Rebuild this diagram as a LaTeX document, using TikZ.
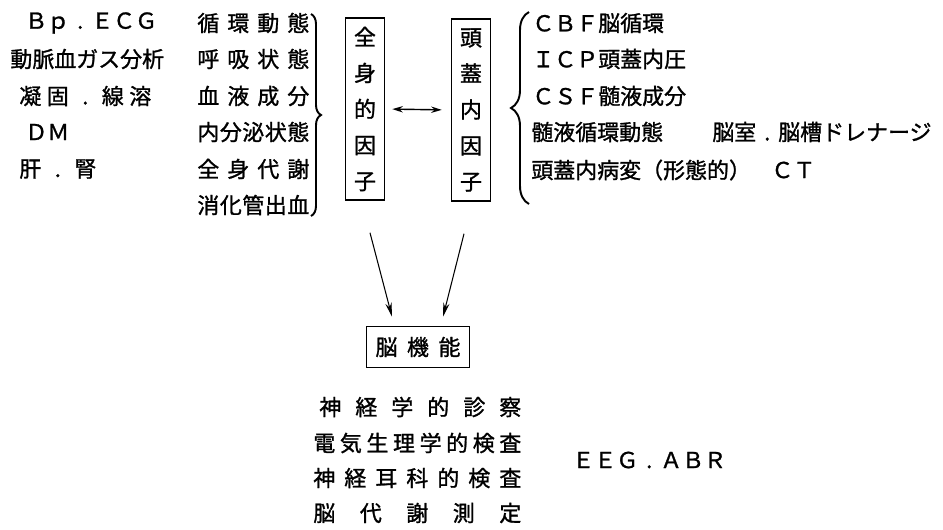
\documentclass[tikz,border=0pt]{standalone}
\usepackage{fontspec}
\setmainfont{Noto Sans CJK JP}[FakeBold=1.2]
\usetikzlibrary{positioning, calc, arrows.meta, decorations.pathreplacing}

\newcommand{\spread}[2]{\makebox[#1][s]{#2}}
\newcommand{\gap}{\hfill{}}
\newcommand{\dt}{\makebox[1em][c]{.}}

\begin{document}
\begin{tikzpicture}[x=0.02cm, y=-0.02cm]
        \tikzstyle{txt}=[anchor=west, inner sep=0pt, font=\fontsize{12.5}{15}\selectfont];
        \tikzstyle{factor}=[draw, line width=0.9pt, minimum width=0.78cm, minimum height=3.64cm, inner sep=0pt, align=center, font=\fontsize{12.5}{20.5}\selectfont];
        \tikzstyle{arr}=[-{Stealth[length=8pt, width=3.6pt]}, line width=0.6pt];
        \tikzstyle{dbl}=[{Stealth[length=6pt, width=3.6pt]}-{Stealth[length=6pt, width=3.6pt]}, line width=0.8pt];
        \tikzstyle{brc}=[decorate, line width=1.1pt];
        \useasboundingbox (0,0) rectangle (943,529);

        \node[txt] (bp) at (25,23) {Ｂｐ\dt ＥＣＧ};
        \node[txt] (gas) at (10,59) {動脈血ガス分析};
        \node[txt] (coag) at (19,96) {\spread{2.64cm}{凝\gap 固\gap\dt\gap 線\gap 溶}};
        \node[txt] (dm) at (25,132) {ＤＭ};
        \node[txt] (liver) at (19,169) {\spread{1.54cm}{肝\gap\dt\gap 腎}};

        \node[txt] (circ) at (197,23) {\spread{2.24cm}{循\gap 環\gap 動\gap 態}};
        \node[txt] (resp) at (197,59) {\spread{2.24cm}{呼\gap 吸\gap 状\gap 態}};
        \node[txt] (blood) at (197,96) {\spread{2.24cm}{血\gap 液\gap 成\gap 分}};
        \node[txt] (endo) at (197,132) {\spread{2.24cm}{内\gap 分\gap 泌\gap 状\gap 態}};
        \node[txt] (metab) at (197,169) {\spread{2.24cm}{全\gap 身\gap 代\gap 謝}};
        \node[txt] (gi) at (197,205) {\spread{2.24cm}{消\gap 化\gap 管\gap 出\gap 血}};
        \draw[brc, decoration={brace, amplitude=0.2cm}] (311,14) -- (311,216);

        \node[factor] (whole) at (365,109) {全\\身\\的\\因\\子};
        \node[factor] (intra) at (471,110) {頭\\蓋\\内\\因\\子};

        \draw[brc, decoration={brace, amplitude=0.36cm}] (529,204) -- (529,12);
        \node[txt] (cbf) at (532,23) {ＣＢＦ脳循環};
        \node[txt] (icp) at (532,59) {ＩＣＰ頭蓋内圧};
        \node[txt] (csf) at (532,96) {ＣＳＦ髄液成分};
        \node[txt] (flow) at (531,132) {髄液循環動態};
        \node[txt] (drain) at (712,132) {脳室\dt 脳槽ドレナージ};
        \node[txt] (lesion) at (531,170) {頭蓋内病変（形態的）};
        \node[txt] (ct) at (771,170) {ＣＴ};

        \node[draw, line width=0.9pt, minimum width=2.06cm, minimum height=0.82cm, inner sep=0pt, font=\fontsize{12.5}{15}\selectfont] (brain) at (418,347) {\spread{1.7cm}{脳\gap 機\gap 能}};

        \node[txt] (neuro) at (319,407) {\spread{4.04cm}{神\gap 経\gap 学\gap 的\gap 診\gap 察}};
        \node[txt] (elec) at (313,443) {\spread{4.16cm}{電\gap 気\gap 生\gap 理\gap 学\gap 的\gap 検\gap 査}};
        \node[txt] (oto) at (313,478) {\spread{4.16cm}{神\gap 経\gap 耳\gap 科\gap 的\gap 検\gap 査}};
        \node[txt] (cmr) at (313,513) {\spread{4.16cm}{脳\gap 代\gap 謝\gap 測\gap 定}};
        \node[txt] (eeg) at (572,460) {ＥＥＧ\dt ＡＢＲ};

        \path[dbl]
        (whole.east) edge[shorten <=0.14cm, shorten >=0.18cm] (intra.west);
        \draw[arr] ([shift={(5,32)}]whole.south) -- ([shift={(-26,-9)}]brain.north);
        \draw[arr] ([shift={(-7,32)}]intra.south) -- ([shift={(25,-9)}]brain.north);
      \end{tikzpicture}
\end{document}
